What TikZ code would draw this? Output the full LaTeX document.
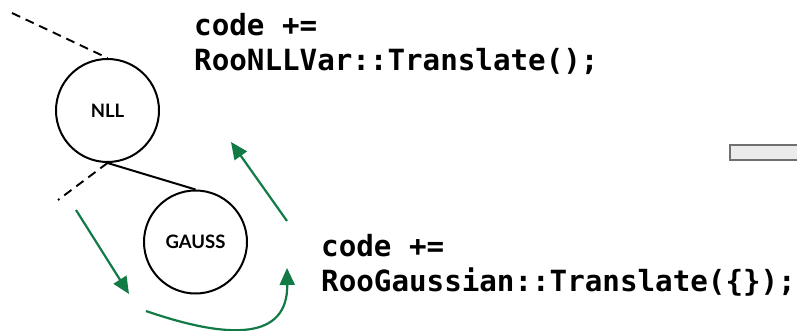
\documentclass[tikz,border=0pt]{standalone}
\usepackage{fontspec}
\setmonofont{DejaVu Sans Mono}
\newfontfamily\latofont{Lato}
\usetikzlibrary{arrows.meta}
\definecolor{flowgreen}{RGB}{18,122,68}
\definecolor{boxgray}{RGB}{112,112,112}
\definecolor{boxfill}{RGB}{235,235,235}
\tikzset{
  treenode/.style={circle, draw=black, line width=2pt, minimum size=103pt, inner sep=0pt,
    font=\latofont\bfseries\fontsize{18.5}{20}\selectfont},
  edge/.style={draw=black, line width=2pt},
  dashedge/.style={draw=black, line width=1.9pt, dash pattern=on 9pt off 6pt},
  flow/.style={draw=flowgreen, line width=2.2pt, -{Triangle[length=17pt,width=15pt]}},
  codetext/.style={anchor=base west, inner sep=0pt, align=left,
    font=\ttfamily\bfseries\fontsize{29.2}{35}\selectfont}
}
\begin{document}
\begin{tikzpicture}[x=1pt,y=-1pt]
  \useasboundingbox (0,0) rectangle (797,331);

  % tree of nodes
  \node[treenode] (nll) at (107.5,110.5) {NLL};
  \node[treenode] (gauss) at (195.5,242) {GAUSS};
  \coordinate (upper) at (12,13);
  \coordinate (lower) at (58,200);
  \draw[dashedge] (upper) -- (nll.north);
  \draw[dashedge] (nll.south) -- (lower);
  \draw[edge] (nll.south) -- (gauss.north);

  % green flow arrows
  \coordinate (down0) at (76,210);
  \coordinate (down1) at (129,294);
  \coordinate (turn0) at (146,311);
  \coordinate (turn1) at (287,268);
  \coordinate (up0) at (287,221);
  \coordinate (up1) at (231,142);
  \draw[flow] (down0) -- (down1);
  \draw[flow] (turn0) .. controls (230,340) and (288,340) .. (turn1);
  \draw[flow] (up0) -- (up1);

  % code snippets (anchored at the baseline of the last line)
  \node[codetext] (code1) at (194,71) {code +=\\RooNLLVar::Translate();};
  \node[codetext] (code2) at (321,291) {code +=\\RooGaussian::Translate(\{\});};

  % partial box at the right edge
  \draw[draw=boxgray, fill=boxfill, line width=1.8pt] (730,145) rectangle (810,160);
\end{tikzpicture}
\end{document}
